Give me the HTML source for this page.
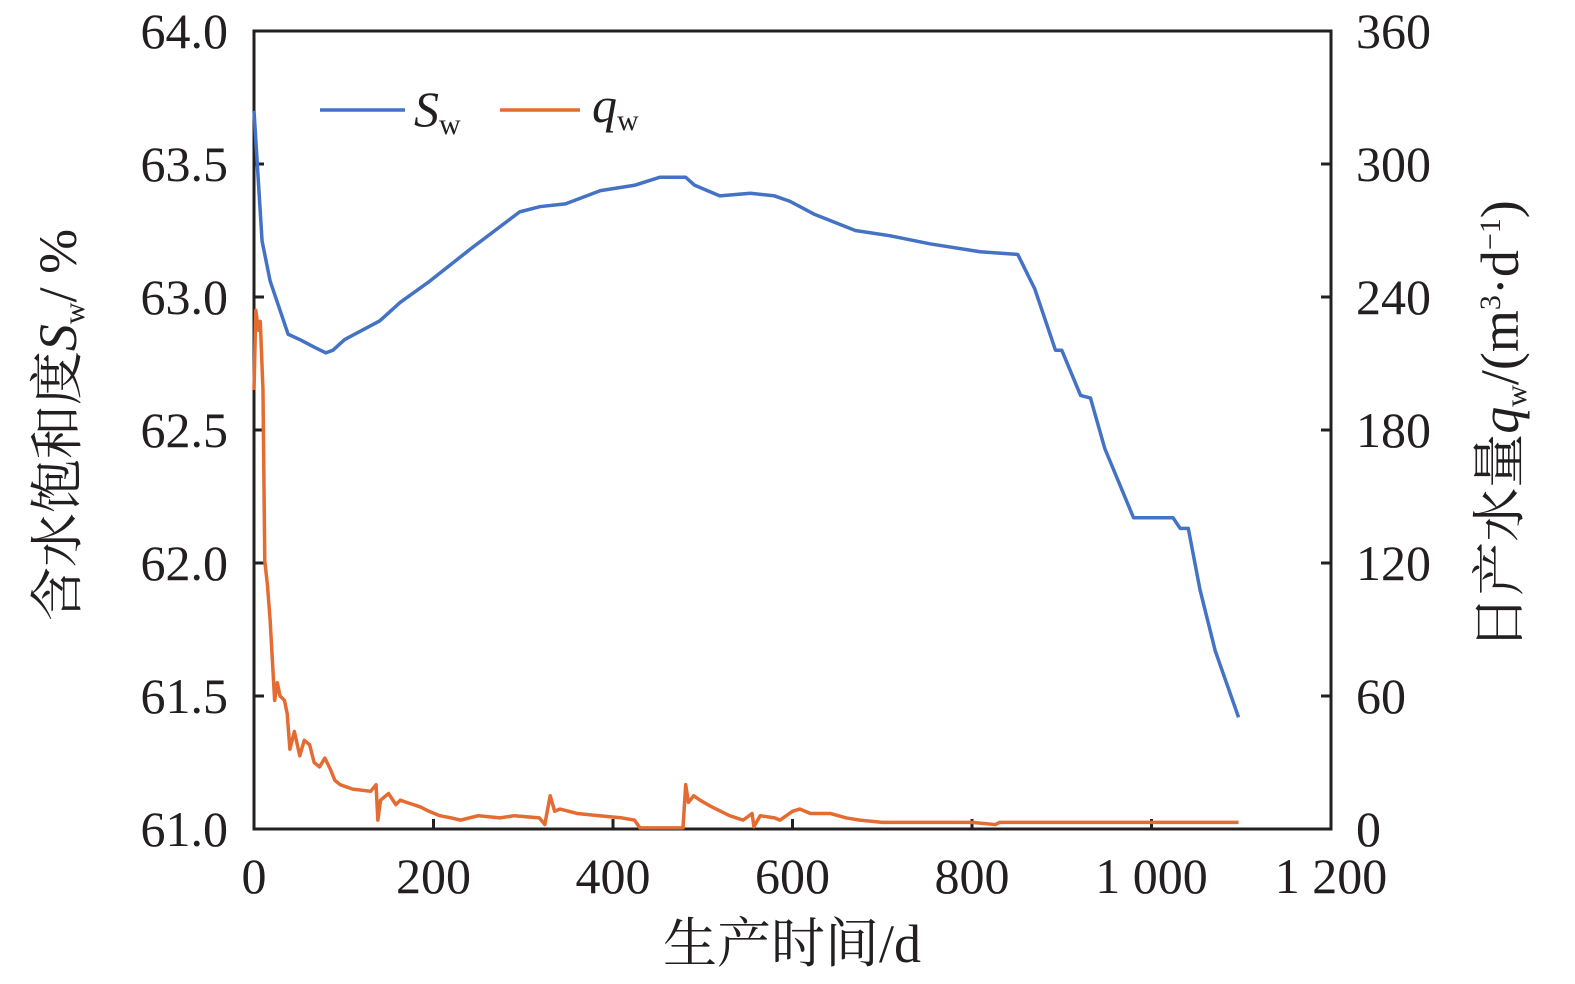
<!DOCTYPE html>
<html><head><meta charset="utf-8">
<style>
html,body{margin:0;padding:0;background:#fff;overflow:hidden;width:1575px;height:984px;}
svg{display:block;}
svg text{font-family:"Liberation Serif","Noto Serif CJK SC",serif;fill:#231f20;}
</style></head>
<body>
<svg id="chart" width="1575" height="984" viewBox="0 0 1575 984" xmlns="http://www.w3.org/2000/svg">
<rect x="254" y="31" width="1077" height="798" fill="none" stroke="#231f20" stroke-width="3"/>
<g id="ticks"></g>
<g id="series"></g>
<g>
<line x1="320" y1="110" x2="405" y2="110" stroke="#4472c4" stroke-width="3.5"/>
<text x="414" y="126" font-size="50" font-style="italic">S<tspan font-size="30" font-style="normal" dy="8">w</tspan></text>
<line x1="500" y1="110" x2="580" y2="110" stroke="#e46c32" stroke-width="3.5"/>
<text x="592" y="122" font-size="50" font-style="italic">q<tspan font-size="30" font-style="normal" dy="8">w</tspan></text>
</g>
<text x="792" y="962" font-size="54" text-anchor="middle">生产时间/d</text>
<text transform="translate(76,425) rotate(-90)" font-size="54" text-anchor="middle">含水饱和度<tspan font-style="italic">S</tspan><tspan font-size="30" dy="8">w</tspan><tspan dy="-8">/ %</tspan></text>
<text transform="translate(1518,425) rotate(-90)" font-size="54" text-anchor="middle">日产水量<tspan font-style="italic">q</tspan><tspan font-size="30" dy="8">w</tspan><tspan dy="-8">/(m</tspan><tspan font-size="30" dy="-18">3</tspan><tspan dy="18">·d</tspan><tspan font-size="30" dy="-18">−1</tspan><tspan dy="18">)</tspan></text>
</svg>
<script>
const xTicks=[0,200,400,600,800,1000,1200];
const xTickLabels=["0","200","400","600","800","1 000","1 200"];
const leftTicks=[61.0,61.5,62.0,62.5,63.0,63.5,64.0];
const leftTickLabels=["61.0","61.5","62.0","62.5","63.0","63.5","64.0"];
const rightTicks=[0,60,120,180,240,300,360];
const rightTickLabels=["0","60","120","180","240","300","360"];
const swDays=[0,9,18,38,51,68,80,88,101,140,163,196,241,296,319,347,386,424,452,481,491,519,553,580,597,625,670,709,753,809,851,870,893,900,921,932,948,980,1024,1032,1041,1054,1071,1097];
const swValues=[63.70,63.21,63.06,62.86,62.84,62.81,62.79,62.80,62.84,62.91,62.98,63.06,63.18,63.32,63.34,63.35,63.40,63.42,63.45,63.45,63.42,63.38,63.39,63.38,63.36,63.31,63.25,63.23,63.20,63.17,63.16,63.03,62.80,62.80,62.63,62.62,62.43,62.17,62.17,62.13,62.13,61.90,61.67,61.42];
const qwDays=[0,2,5,7,10,12,15,18,23,26,29,34,37,40,45,51,56,62,67,73,79,85,90,96,110,130,136,138,141,150,158,163,170,185,195,207,220,230,250,274,290,318,324,330,335,341,360,385,410,424,430,478,481,484,490,497,510,530,545,555,557,564,580,586,600,608,620,642,660,675,700,720,750,786,800,826,831,900,1000,1097];
const qwValues=[198,234,225,229,198,121,110,94,58,66,60,58,52,36,44,33,40,38,30,28,32,27,22,20,18,17,20,4,13,16,11,13,12,10,8,6,5,4,6,5,6,5,2,15,8,9,7,6,5,4,0.5,0.5,20,12,15,13,10,6,4,7,1,6,5,4,8,9,7,7,5,4,3,3,3,3,3,2,3,3,3,3];
const X=d=>254+d*1077/1200;
const YL=v=>829-(v-61)*798/3;
const YR=v=>829-v*798/360;
const NS="http://www.w3.org/2000/svg";
const ticks=document.getElementById('ticks');
function mk(tag,attrs,parent,txt){const e=document.createElementNS(NS,tag);for(const k in attrs)e.setAttribute(k,attrs[k]);if(txt!==undefined)e.textContent=txt;parent.appendChild(e);return e;}
xTicks.forEach((t,i)=>{
 const l=mk('line',{x1:X(t),x2:X(t),y1:829,y2:819,stroke:'#231f20','stroke-width':3},ticks);
 
 
 const tx=mk('text',{x:X(t),y:893,'font-size':50,'text-anchor':'middle'},ticks,xTickLabels[i]);
 
 
});
leftTicks.forEach((t,i)=>{
 const l=mk('line',{x1:254,x2:264,y1:YL(t),y2:YL(t),stroke:'#231f20','stroke-width':3},ticks);
 
 
 const tx=mk('text',{x:228,y:YL(t)+17,'font-size':50,'text-anchor':'end'},ticks,leftTickLabels[i]);
 
 
});
rightTicks.forEach((t,i)=>{
 const l=mk('line',{x1:1321,x2:1331,y1:YR(t),y2:YR(t),stroke:'#231f20','stroke-width':3},ticks);
 
 
 const tx=mk('text',{x:1356,y:YR(t)+17,'font-size':50,'text-anchor':'start'},ticks,rightTickLabels[i]);
 
 
});
const series=document.getElementById('series');
const qp=mk('polyline',{points:qwDays.map((d,i)=>X(d)+','+YR(qwValues[i])).join(' '),fill:'none',stroke:'#e46c32','stroke-width':3.5,'stroke-linejoin':'round'},series);


const sp=mk('polyline',{points:swDays.map((d,i)=>X(d)+','+YL(swValues[i])).join(' '),fill:'none',stroke:'#4472c4','stroke-width':3.5,'stroke-linejoin':'round'},series);


</script>
</body></html>
